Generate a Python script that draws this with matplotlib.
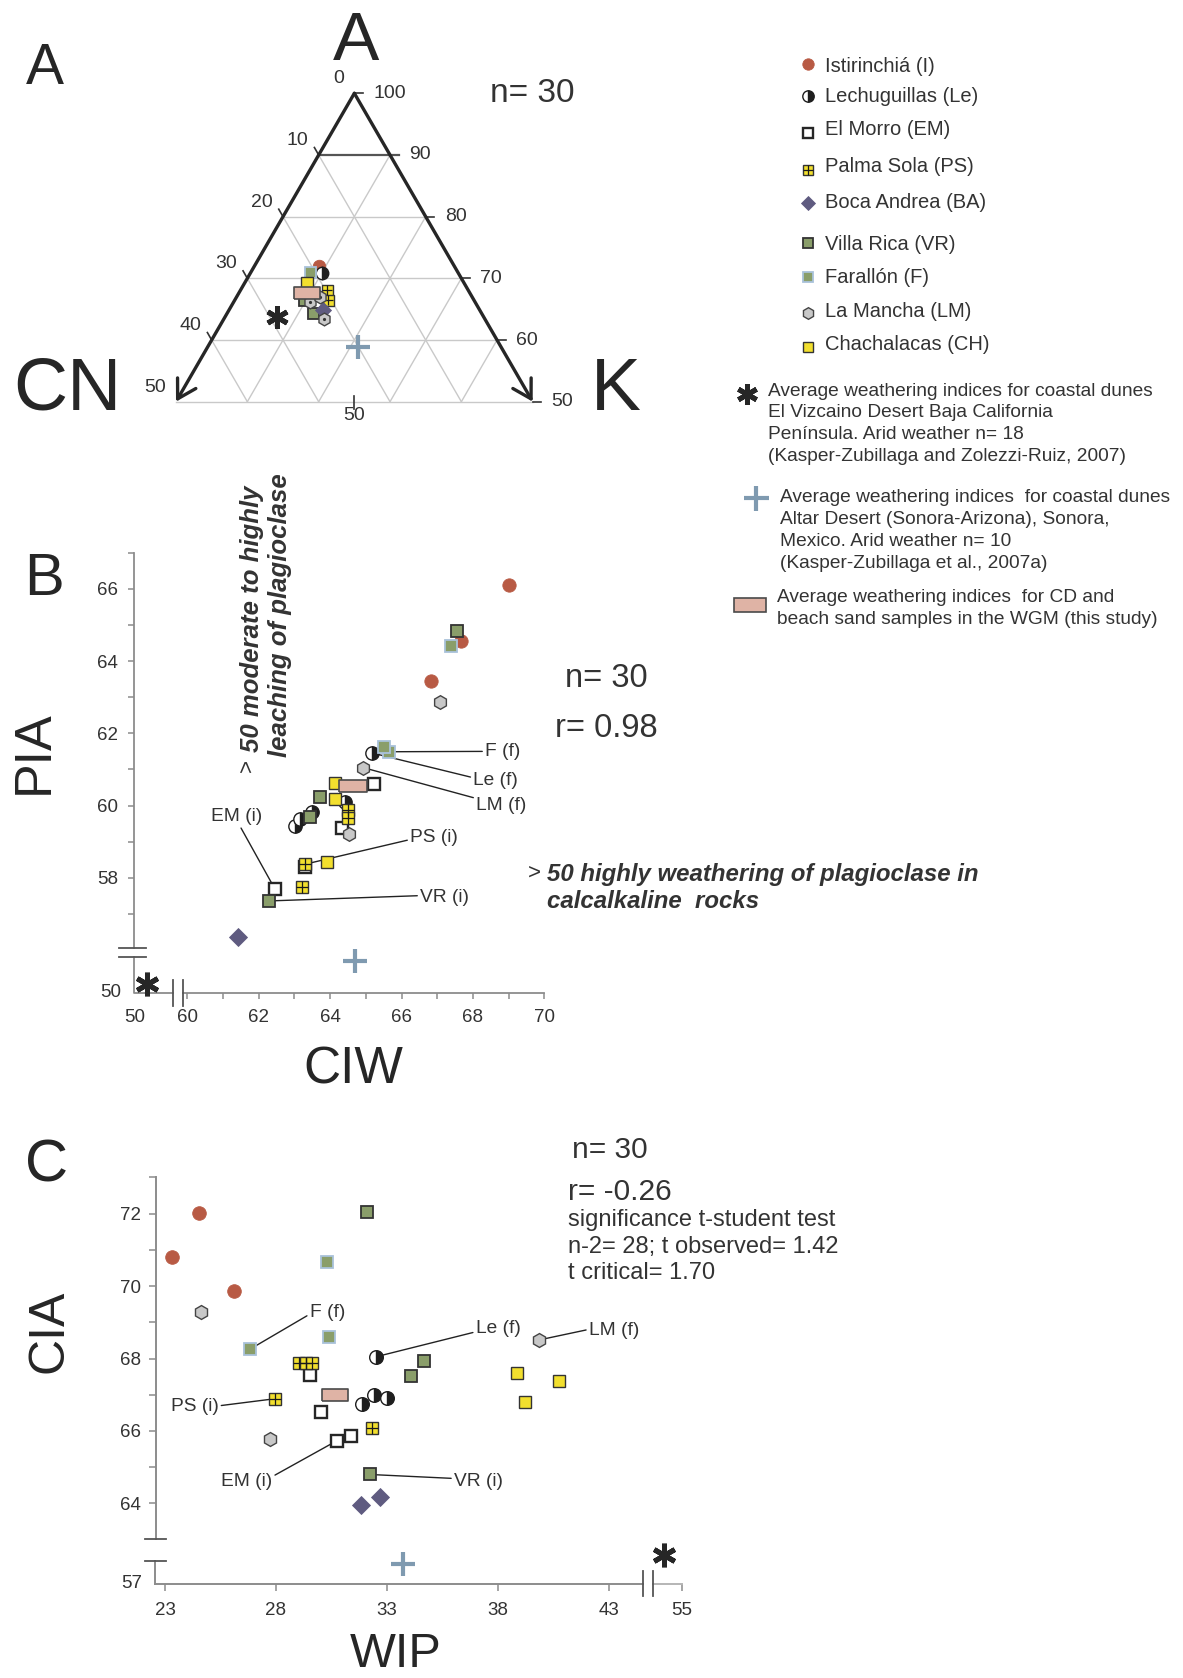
import numpy as np
import matplotlib
matplotlib.use("Agg")
import matplotlib.pyplot as plt
from matplotlib.patches import Rectangle

W, H = 1183, 1678
plt.rcParams['font.family'] = ['Liberation Sans', 'DejaVu Sans']
INK = '#262626'
TXT = '#333333'
GREY = '#8c8c8c'
S3 = np.sqrt(3) / 2

# ---- sites (legend order)
site_codes = ['I', 'Le', 'EM', 'PS', 'BA', 'VR', 'F', 'LM', 'CH']
site_names = ['Istirinchiá (I)', 'Lechuguillas (Le)', 'El Morro (EM)',
              'Palma Sola (PS)', 'Boca Andrea (BA)', 'Villa Rica (VR)',
              'Farallón (F)', 'La Mancha (LM)', 'Chachalacas (CH)']

# ---- panel A: A - CN - K (%)
tern_I = [(72.0, 18.9, 9.1)]
tern_Le = [(70.8, 19.2, 10.0)]
tern_F = [(71.1, 20.7, 8.2)]
tern_CH = [(69.3, 22.0, 8.7)]
tern_PS = [(68.1, 19.8, 12.1), (66.5, 20.4, 13.1)]
tern_VR = [(66.5, 23.8, 9.7), (64.3, 23.6, 12.1)]
tern_BA = [(64.9, 21.9, 13.2)]
tern_LM = [(66.2, 23.1, 10.7), (67.0, 21.3, 11.7), (63.4, 22.5, 14.1)]
tern_avg = [(67.7, 22.8, 9.5)]
tern_vizcaino = [(63.8, 29.0, 7.2)]
tern_altar = [(58.9, 20.0, 21.1)]

# ---- panel B: CIW, PIA
b_I = [(69.0, 66.1), (67.67, 64.56), (66.83, 63.45)]
b_Le = [(65.16, 61.46), (63.02, 59.44), (63.16, 59.64), (63.5, 59.83), (64.42, 60.11)]
b_EM = [(65.23, 60.59), (64.34, 59.39), (63.31, 58.30), (62.46, 57.68)]
b_PS = [(64.49, 59.87), (64.49, 59.66), (63.31, 58.38), (63.2, 57.75)]
b_CH = [(64.14, 60.63), (64.14, 60.17), (63.9, 58.43)]
b_VR = [(67.55, 64.82), (63.72, 60.24), (63.45, 59.67), (62.29, 57.36)]
b_F = [(65.64, 61.49), (65.51, 61.61), (67.39, 64.43)]
b_LM = [(67.09, 62.86), (64.93, 61.05), (64.54, 59.21)]
b_BA = [(61.41, 56.35)]
b_avg = [(64.63, 60.54)]
b_vizcaino = [(51.0, 50.7)]
b_altar = [(64.7, 52.5)]

# ---- panel C: WIP, CIA
c_I = [(24.55, 72.02), (23.31, 70.8), (26.09, 69.87)]
c_Le = [(32.52, 68.05), (31.88, 66.74), (32.43, 67.0), (33.0, 66.9)]
c_EM = [(29.55, 67.54), (30.02, 66.53), (30.74, 65.73), (31.38, 65.86)]
c_PS = [(29.03, 67.88), (29.34, 67.88), (29.64, 67.88), (27.95, 66.89), (32.31, 66.09)]
c_CH = [(38.88, 67.59), (39.24, 66.81), (40.74, 67.38)]
c_VR = [(32.1, 72.04), (34.69, 67.93), (34.09, 67.53), (32.24, 64.8)]
c_F = [(30.28, 70.65), (30.38, 68.6), (26.81, 68.25)]
c_LM = [(24.64, 69.27), (27.71, 65.79), (39.84, 68.51)]
c_BA = [(31.84, 63.95), (32.69, 64.17)]
c_avg = [(30.64, 67.0)]
c_vizcaino = [(51.9, 59.3)]
c_altar = [(33.74, 58.6)]

RECT = [(-1, -0.45), (1, -0.45), (1, 0.45), (-1, 0.45), (-1, -0.45)]
STYLE = {
    'I': dict(marker='o', fc='#b85a44', ec='#b85a44', ew=0.6, fac=1.0),
    'Le': dict(marker='o', fc='#1e1e1e', ec='#1e1e1e', ew=1.0, fac=1.0,
               fill='right', alt='white'),
    'EM': dict(marker='s', fc='white', ec='#262626', ew=1.7, fac=0.9),
    'PS': dict(marker='s', fc='#f2df2e', ec='#333333', ew=1.0, fac=0.88),
    'BA': dict(marker='D', fc='#5f5b80', ec='#5f5b80', ew=0.6, fac=0.92),
    'VR': dict(marker='s', fc='#8a9e6a', ec='#333333', ew=1.3, fac=0.88),
    'F': dict(marker='s', fc='#8a9e6a', ec='#a9c2da', ew=1.3, fac=0.88),
    'LM': dict(marker='h', fc='#c8c8c8', ec='#444444', ew=1.0, fac=1.02),
    'CH': dict(marker='s', fc='#f2df2e', ec='#333333', ew=1.0, fac=0.9),
}


def px_box(l, t, r, b):
    return [l / W, 1 - b / H, (r - l) / W, (b - t) / H]


def draw_site(ax, code, xs, ys, base, z, dot=False):
    st = STYLE[code]
    ms = base * st['fac']
    ax.plot(xs, ys, ls='none', marker=st['marker'], markersize=ms,
            markerfacecolor=st['fc'], markeredgecolor=st['ec'],
            markeredgewidth=st['ew'], fillstyle=st.get('fill', 'full'),
            markerfacecoloralt=st.get('alt', 'none'), clip_on=False, zorder=z)
    if code == 'PS':
        ax.plot(xs, ys, ls='none', marker='+', markersize=ms * 0.95,
                markeredgecolor='#1a1a1a', markeredgewidth=0.9,
                clip_on=False, zorder=z + 0.1)
    if code == 'LM' and dot:
        ax.plot(xs, ys, ls='none', marker='o', markersize=ms * 0.25,
                markerfacecolor='#333333', markeredgecolor='none',
                clip_on=False, zorder=z + 0.1)


def draw_avg(ax, xs, ys, ms, z):
    ax.plot(xs, ys, ls='none', marker=RECT, markersize=ms,
            markerfacecolor='#dfb3a5', markeredgecolor='#4a4a4a',
            markeredgewidth=1.2, clip_on=False, zorder=z)


def draw_star(ax, xs, ys, ms, z=20):
    ax.plot(xs, ys, ls='none', marker=(6, 2, 0), markersize=ms,
            markeredgecolor=INK, markeredgewidth=3.6, clip_on=False, zorder=z)


def draw_plus(ax, xs, ys, ms, z=20):
    ax.plot(xs, ys, ls='none', marker='+', markersize=ms,
            markeredgecolor='#7f9ab0', markeredgewidth=3.0, clip_on=False, zorder=z)


def ftext(x, y, s, **kw):
    kw.setdefault('color', INK)
    fig.text(x / W, 1 - y / H, s, **kw)


def xy(pts):
    a = np.asarray(pts, dtype=float)
    return a[:, 0], a[:, 1]


def tern(A, CN, K):
    A, CN, K = (np.asarray(v, dtype=float) for v in (A, CN, K))
    tot = A + CN + K
    A, K = A / tot * 100, K / tot * 100
    return K + A / 2, A * S3


def tern_pts(pts):
    a = np.asarray(pts, dtype=float)
    return tern(a[:, 0], a[:, 1], a[:, 2])


fig = plt.figure(figsize=(W / 100, H / 100), dpi=100)

# ================= overlay (legend) =================
ov = fig.add_axes([0, 0, 1, 1])
ov.set_xlim(0, W)
ov.set_ylim(H, 0)
ov.axis('off')

key_y = [64.3, 96, 133.3, 170, 203.3, 243.3, 277.3, 313.3, 346.7]
txt_y = [66.4, 96.4, 129.5, 167, 202.3, 244, 277.3, 311.5, 344.7]
for code, name, ky, ty in zip(site_codes, site_names, key_y, txt_y):
    draw_site(ov, code, [807.7], [ky], 8.2, 5)
    ov.text(825, ty, name, fontsize=14.5, color=TXT, va='center', ha='left')

draw_star(ov, [747], [394], 15)
for i, line in enumerate(['Average weathering indices for coastal dunes',
                          'El Vizcaino Desert Baja California',
                          'Península. Arid weather n= 18',
                          '(Kasper-Zubillaga and Zolezzi-Ruiz, 2007)']):
    ov.text(768.3, 391.3 + i * 21.6, line, fontsize=13.8, color=TXT, va='center')

draw_plus(ov, [756], [497.5], 18)
for i, line in enumerate(['Average weathering indices  for coastal dunes',
                          'Altar Desert (Sonora-Arizona), Sonora,',
                          'Mexico. Arid weather n= 10',
                          '(Kasper-Zubillaga et al., 2007a)']):
    ov.text(780, 498 + i * 21.7, line, fontsize=13.8, color=TXT, va='center')

ov.add_patch(Rectangle((734.5, 598), 32, 14, facecolor='#dfb3a5',
                       edgecolor='#4a4a4a', lw=1.2))
for i, line in enumerate(['Average weathering indices  for CD and',
                          'beach sand samples in the WGM (this study)']):
    ov.text(777.3, 597.6 + i * 21.4, line, fontsize=13.8, color=TXT, va='center')

# ================= panel A: ternary =================
axA = fig.add_axes(px_box(176, 93.3, 532.7, 401.7))
axA.set_xlim(25, 75)
axA.set_ylim(50 * S3, 100 * S3)
axA.axis('off')

light = dict(color='#c9c9c9', lw=1.0, zorder=1, clip_on=False)
for a in (50, 60, 70, 80):
    x0, y0 = tern(a, 100 - a, 0)
    x1, y1 = tern(a, 0, 100 - a)
    axA.plot([x0, x1], [y0, y1], **light)
for v in (10, 20, 30, 40):
    x0, y0 = tern(50, 50 - v, v)
    x1, y1 = tern(100 - v, 0, v)
    axA.plot([x0, x1], [y0, y1], **light)
    x0, y0 = tern(50, v, 50 - v)
    x1, y1 = tern(100 - v, v, 0)
    axA.plot([x0, x1], [y0, y1], **light)

x0, y0 = tern(90, 10, 0)
x1, y1 = tern(90, 0, 10)
axA.plot([x0, x1 + 1.2], [y0, y1], color='#555555', lw=1.6, zorder=2, clip_on=False)

tick = dict(color='#333333', lw=1.2, zorder=2, clip_on=False)
for a in (50, 60, 70, 80, 100):
    xe, ye = tern(a, 0, 100 - a)
    axA.plot([xe, xe + 1.2], [ye, ye], **tick)
for c in (10, 20, 30, 40):
    xe, ye = tern(100 - c, c, 0)
    axA.plot([xe, xe - 0.6], [ye, ye + 1.05], **tick)
xb, yb = tern(50, 25, 25)
axA.plot([xb, xb], [yb - 1.0, yb + 0.8], **tick)

apex = tern(100, 0, 0)
arrow = dict(arrowstyle='->,head_length=0.65,head_width=0.38', lw=2.4,
             color=INK, shrinkA=0, shrinkB=0, mutation_scale=20)
axA.annotate('', xy=tern(50, 50, 0), xytext=apex, arrowprops=arrow,
             annotation_clip=False, zorder=3)
axA.annotate('', xy=tern(50, 0, 50), xytext=apex, arrowprops=arrow,
             annotation_clip=False, zorder=3)

for c in (0, 10, 20, 30, 40, 50):
    axA.annotate(str(c), xy=tern(100 - c, c, 0), xytext=(-7.2, 10.4),
                 textcoords='offset points', ha='right', va='center',
                 fontsize=14, color=TXT, annotation_clip=False)
for a in (100, 90, 80, 70, 60, 50):
    axA.annotate(str(a), xy=tern(a, 0, 100 - a), xytext=(13.7, 0),
                 textcoords='offset points', ha='left', va='center',
                 fontsize=14, color=TXT, annotation_clip=False)
axA.annotate('50', xy=(xb, yb), xytext=(0, -4), textcoords='offset points',
             ha='center', va='top', fontsize=14, color=TXT, annotation_clip=False)

tern_sets = [('I', tern_I), ('Le', tern_Le), ('F', tern_F), ('CH', tern_CH),
             ('PS', tern_PS), ('VR', tern_VR), ('BA', tern_BA), ('LM', tern_LM)]
for z, (code, pts) in enumerate(tern_sets):
    tx, ty = tern_pts(pts)
    draw_site(axA, code, tx, ty, 9.0, 5 + z, dot=True)
tx, ty = tern_pts(tern_avg)
draw_avg(axA, tx, ty, 18.5, 15)
tx, ty = tern_pts(tern_vizcaino)
draw_star(axA, tx, ty, 16)
tx, ty = tern_pts(tern_altar)
draw_plus(axA, tx, ty, 17)

ftext(45, 83.5, 'A', fontsize=41, ha='center', va='baseline')
ftext(356.5, 60.5, 'A', fontsize=50, ha='center', va='baseline')
ftext(67, 410, 'CN', fontsize=54, ha='center', va='baseline')
ftext(615.6, 410, 'K', fontsize=54, ha='center', va='baseline')
ftext(490, 93, 'n= 30', fontsize=24, ha='left', va='center', color=TXT)


# ================= panel B: CIW vs PIA =================
def brk_b(pts):
    x, y = xy(pts)
    x = np.where(x < 55, 58.515 + (x - 50) * 0.35, x)
    y = np.where(y < 55, 54.82 + (y - 50) * 0.35, y)
    return x, y


axB = fig.add_axes(px_box(134.3, 552.7, 544.3, 992.7))
axB.set_xlim(58.515, 70)
axB.set_ylim(54.82, 67)
axB.patch.set_alpha(0)
for s in ('top', 'right'):
    axB.spines[s].set_visible(False)
for s in ('left', 'bottom'):
    axB.spines[s].set_color(GREY)
    axB.spines[s].set_linewidth(1.3)
axB.spines['left'].set_bounds(56.05, 67)
axB.spines['bottom'].set_bounds(59.87, 70)
axB.set_xticks(range(60, 71, 2))
axB.set_xticks(range(61, 70, 2), minor=True)
axB.set_yticks(range(58, 67, 2))
axB.set_yticks(range(57, 68, 2), minor=True)
axB.tick_params(which='both', direction='out', length=4.5, width=1.1,
                color=GREY, labelsize=13.5, labelcolor=TXT)
axB.tick_params(axis='x', pad=7)
axB.tick_params(axis='y', pad=7)

brk = dict(color='#555555', lw=1.3, clip_on=False, zorder=3)
axB.plot([58.515, 58.515, 59.59], [55.82, 54.82, 54.82], color=GREY, lw=1.3,
         clip_on=False, zorder=3)
for yb_ in (56.05, 55.82):
    axB.plot([58.095, 58.84], [yb_, yb_], **brk)
for xb_ in (59.59, 59.87):
    axB.plot([xb_, xb_], [55.17, 54.46], **brk)

b_sets = [('I', b_I), ('Le', b_Le), ('EM', b_EM), ('PS', b_PS), ('CH', b_CH),
          ('VR', b_VR), ('F', b_F), ('LM', b_LM), ('BA', b_BA)]
for z, (code, pts) in enumerate(b_sets):
    bx, by = brk_b(pts)
    draw_site(axB, code, bx, by, 9.6, 5 + z)
bx, by = brk_b(b_avg)
draw_avg(axB, bx, by, 19.5, 15)
bx, by = brk_b(b_vizcaino)
draw_star(axB, bx, by, 17)
bx, by = brk_b(b_altar)
draw_plus(axB, bx, by, 17)

lab = dict(fontsize=13.8, color=TXT, va='center', textcoords='data',
           annotation_clip=False, zorder=1.5)


def line(rel):
    return dict(arrowstyle='-', color='#222222', lw=1.0, shrinkA=0, shrinkB=0,
                relpos=rel)


axB.annotate('F (f)', xy=b_F[0], xytext=(68.34, 61.5), ha='left',
             arrowprops=line((0, 0.5)), **lab)
axB.annotate('Le (f)', xy=b_Le[0], xytext=(68.01, 60.7), ha='left',
             arrowprops=line((0, 0.65)), **lab)
axB.annotate('LM (f)', xy=b_LM[1], xytext=(68.09, 60.01), ha='left',
             arrowprops=line((0, 0.9)), **lab)
axB.annotate('PS (i)', xy=b_PS[2], xytext=(66.24, 59.13), ha='left',
             arrowprops=line((0, 0.35)), **lab)
axB.annotate('EM (i)', xy=b_EM[3], xytext=(61.39, 59.69), ha='center',
             arrowprops=line((0.55, 0)), **lab)
axB.annotate('VR (i)', xy=b_VR[3], xytext=(66.52, 57.46), ha='left',
             arrowprops=line((0, 0.6)), **lab)

ftext(121, 992.7, '50', fontsize=13.5, ha='right', va='center', color=TXT)
ftext(135, 1017, '50', fontsize=13.5, ha='center', va='center', color=TXT)

ftext(44.4, 595.3, 'B', fontsize=43, ha='center', va='baseline')
ftext(48.2, 752.6, 'PIA', fontsize=37.5, ha='center', va='baseline',
      rotation=90, rotation_mode='anchor')
ftext(353.3, 1083.4, 'CIW', fontsize=37, ha='center', va='baseline')

ftext(565, 678.3, 'n= 30', fontsize=23.5, ha='left', va='center', color=TXT)
ftext(555, 728.3, 'r= 0.98', fontsize=23.5, ha='left', va='center', color=TXT)

note = dict(fontweight='bold', fontstyle='italic', color=TXT)
ftext(247, 766, '>', fontsize=16, rotation=90, rotation_mode='anchor',
      ha='center', va='center', color=TXT)
ftext(251.7, 751.7, '50 moderate to highly', rotation=90, fontsize=18.5,
      rotation_mode='anchor', ha='left', va='center', **note)
ftext(280, 756.7, 'leaching of plagioclase', rotation=90, fontsize=18.5,
      rotation_mode='anchor', ha='left', va='center', **note)
ftext(534, 873, '>', fontsize=16, ha='center', va='center', color=TXT)
ftext(546.7, 875, '50 highly weathering of plagioclase in', ha='left',
      va='center', fontsize=17.3, **note)
ftext(546.7, 901.7, 'calcalkaline  rocks', ha='left', va='center',
      fontsize=17.3, **note)


# ================= panel C: WIP vs CIA =================
def brk_c(pts):
    x, y = xy(pts)
    x = np.where(x > 50, 44.98 + (x - 50) * 0.26, x)
    y = np.where(y < 60, 61.77 + (y - 57) * 0.35, y)
    return x, y


axC = fig.add_axes(px_box(155.5, 1177.3, 681.6, 1584.3))
axC.set_xlim(22.57, 46.28)
axC.set_ylim(61.77, 73)
axC.patch.set_alpha(0)
for s in ('top', 'right'):
    axC.spines[s].set_visible(False)
for s in ('left', 'bottom'):
    axC.spines[s].set_color(GREY)
    axC.spines[s].set_linewidth(1.4)
axC.spines['left'].set_bounds(63.02, 73)
axC.spines['bottom'].set_bounds(22.57, 44.55)
axC.set_xticks([23, 28, 33, 38, 43, 46.28], labels=['23', '28', '33', '38', '43', '55'])
axC.set_yticks(range(64, 73, 2))
axC.set_yticks(range(65, 74, 2), minor=True)
axC.tick_params(which='both', direction='out', length=4.7, width=1.1,
                color=GREY, labelsize=13.5, labelcolor=TXT)
axC.tick_params(axis='x', pad=8)
axC.tick_params(axis='y', pad=6)

axC.plot([22.57, 22.57], [62.42, 61.77], color=GREY, lw=1.4, clip_on=False, zorder=3)
axC.plot([44.98, 46.28], [61.77, 61.77], color='#b5b5b5', lw=1.4, clip_on=False, zorder=3)
for yb_ in (63.02, 62.42):
    axC.plot([22.11, 23.03], [yb_, yb_], **brk)
for xb_ in (44.55, 44.98):
    axC.plot([xb_, xb_], [62.15, 61.44], **brk)

c_sets = [('I', c_I), ('Le', c_Le), ('EM', c_EM), ('PS', c_PS), ('CH', c_CH),
          ('VR', c_VR), ('F', c_F), ('LM', c_LM), ('BA', c_BA)]
for z, (code, pts) in enumerate(c_sets):
    cx, cy = brk_c(pts)
    draw_site(axC, code, cx, cy, 9.8, 5 + z)
cx, cy = brk_c(c_avg)
draw_avg(axC, cx, cy, 18.5, 15)
cx, cy = brk_c(c_vizcaino)
draw_star(axC, cx, cy, 17)
cx, cy = brk_c(c_altar)
draw_plus(axC, cx, cy, 17)

axC.annotate('F (f)', xy=c_F[2], xytext=(29.52, 69.27), ha='left',
             arrowprops=line((0, 0.4)), **lab)
axC.annotate('Le (f)', xy=c_Le[0], xytext=(37.0, 68.83), ha='left',
             arrowprops=line((0, 0.3)), **lab)
axC.annotate('LM (f)', xy=c_LM[2], xytext=(42.1, 68.78), ha='left',
             arrowprops=line((0, 0.55)), **lab)
axC.annotate('PS (i)', xy=c_PS[3], xytext=(25.41, 66.67), ha='right',
             arrowprops=line((1, 0.55)), **lab)
axC.annotate('EM (i)', xy=c_EM[2], xytext=(27.83, 64.6), ha='right',
             arrowprops=line((1, 0.8)), **lab)
axC.annotate('VR (i)', xy=c_VR[3], xytext=(36.02, 64.62), ha='left',
             arrowprops=line((0, 0.65)), **lab)

ftext(142, 1583.3, '57', fontsize=13.5, ha='right', va='center', color=TXT)

ftext(47, 1182, 'C', fontsize=43, ha='center', va='baseline')
ftext(62.1, 1331, 'CIA', fontsize=36, ha='center', va='baseline',
      rotation=90, rotation_mode='anchor')
ftext(396, 1677, 'WIP', fontsize=35, ha='center', va='bottom')

ftext(571.7, 1150, 'n= 30', fontsize=21.5, ha='left', va='center', color=TXT)
ftext(568.3, 1191.7, 'r= -0.26', fontsize=21.5, ha='left', va='center', color=TXT)
for i, s in enumerate(['significance t-student test',
                       'n-2= 28; t observed= 1.42',
                       't critical= 1.70']):
    ftext(568.3, 1220 + i * 26.7, s, fontsize=17, ha='left', va='center', color=TXT)

fig.savefig('out.png', dpi=100)
